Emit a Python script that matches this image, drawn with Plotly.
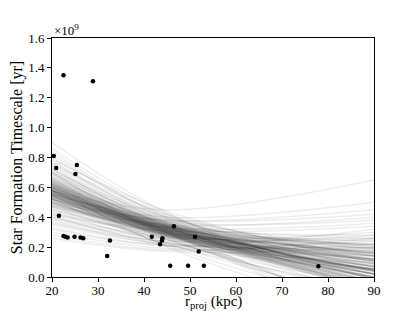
import plotly.graph_objects as go

# Observed points: projected radius (kpc) and star formation timescale (units of 1e9 yr)
r_proj_kpc = [20.4, 20.9, 21.5, 22.5, 22.9, 23.4, 24.9, 26.2, 26.8, 25.1, 25.4, 32.0, 32.6,
              22.5, 28.9,
              41.7, 43.5, 43.9, 44.0, 45.7, 46.5, 49.6, 51.1, 51.9, 53.0, 77.9]
tau_sf_1e9yr = [0.81, 0.73, 0.41, 0.275, 0.27, 0.265, 0.27, 0.265, 0.26, 0.69, 0.75, 0.14, 0.245,
                1.35, 1.31,
                0.27, 0.22, 0.245, 0.26, 0.076, 0.34, 0.076, 0.27, 0.17, 0.076, 0.072]

# Model draws: values (1e9 yr) at the nodes below
draw_nodes_kpc = [20, 45, 90]
draw_values = [
    # core
    (0.57, 0.31, 0.05), (0.55, 0.30, 0.02), (0.60, 0.32, -0.01), (0.52, 0.29, 0.07),
    (0.62, 0.33, 0.02), (0.58, 0.32, 0.11), (0.50, 0.28, 0.04), (0.64, 0.34, 0.00),
    (0.56, 0.31, 0.12), (0.59, 0.30, -0.06), (0.54, 0.32, 0.09), (0.61, 0.33, 0.05),
    (0.53, 0.27, -0.05), (0.66, 0.35, 0.04), (0.48, 0.28, 0.07), (0.57, 0.33, 0.17),
    (0.63, 0.31, -0.25), (0.51, 0.30, 0.12), (0.60, 0.35, 0.19), (0.55, 0.28, -0.08),
    (0.58, 0.31, 0.02), (0.49, 0.30, 0.16), (0.65, 0.32, -0.06), (0.56, 0.30, -0.01),
    (0.62, 0.36, 0.14), (0.53, 0.32, 0.16), (0.59, 0.31, -0.03), (0.47, 0.27, 0.02),
    (0.67, 0.34, -0.10), (0.54, 0.29, 0.00), (0.60, 0.32, 0.05), (0.52, 0.31, 0.17),
    (0.57, 0.29, -0.12), (0.63, 0.35, 0.11), (0.50, 0.27, -0.03), (0.58, 0.33, 0.09),
    (0.55, 0.33, 0.21), (0.61, 0.30, -0.22), (0.56, 0.31, 0.04), (0.64, 0.37, 0.19),
    (0.58, 0.34, 0.14), (0.54, 0.30, 0.05), (0.60, 0.31, -0.05), (0.52, 0.28, -0.01),
    (0.66, 0.36, 0.07), (0.57, 0.32, 0.07), (0.49, 0.29, 0.11), (0.62, 0.34, 0.04),
    (0.55, 0.31, 0.09), (0.59, 0.33, 0.12), (0.53, 0.30, 0.02), (0.65, 0.35, -0.01),
    (0.51, 0.28, 0.00), (0.58, 0.30, -0.08), (0.61, 0.34, 0.16), (0.56, 0.29, -0.05),
    (0.63, 0.33, -0.03), (0.50, 0.30, 0.19), (0.57, 0.34, 0.22), (0.60, 0.29, -0.32),
    (0.54, 0.33, 0.24), (0.62, 0.32, -0.08), (0.48, 0.29, 0.14), (0.59, 0.32, 0.02),
    (0.55, 0.29, -0.03), (0.64, 0.33, -0.05), (0.52, 0.32, 0.22), (0.58, 0.35, 0.26),
    (0.56, 0.32, 0.11), (0.61, 0.31, -0.10), (0.53, 0.29, 0.05), (0.67, 0.36, 0.02),
    (0.57, 0.30, 0.00), (0.50, 0.29, 0.09), (0.63, 0.34, 0.05), (0.55, 0.34, 0.28),
    (0.60, 0.33, 0.07), (0.58, 0.29, -0.24), (0.54, 0.31, 0.14), (0.65, 0.34, -0.03),
    (0.52, 0.30, 0.11), (0.59, 0.34, 0.17), (0.57, 0.31, -0.01), (0.61, 0.36, 0.21),
    (0.49, 0.28, 0.05), (0.56, 0.33, 0.16), (0.62, 0.30, -0.29), (0.54, 0.28, -0.06),
    (0.60, 0.34, 0.12), (0.58, 0.32, 0.04),
    # high start
    (0.72, 0.36, 0.05), (0.78, 0.38, 0.02), (0.70, 0.37, 0.10), (0.75, 0.40, 0.12),
    (0.82, 0.39, -0.05), (0.68, 0.35, 0.08), (0.86, 0.42, -0.02), (0.73, 0.34, -0.04),
    (0.69, 0.38, 0.15), (0.80, 0.41, 0.06), (0.71, 0.39, 0.18), (0.77, 0.36, -0.08),
    (0.74, 0.37, 0.03), (0.90, 0.43, -0.10), (0.69, 0.33, 0.00), (0.76, 0.42, 0.14),
    (0.84, 0.40, 0.00), (0.70, 0.35, 0.04), (0.79, 0.44, 0.10), (0.72, 0.40, 0.20),
    # low start
    (0.42, 0.25, 0.15), (0.38, 0.23, 0.18), (0.45, 0.26, 0.12), (0.35, 0.22, 0.20),
    (0.40, 0.27, 0.25), (0.30, 0.19, 0.22), (0.44, 0.23, 0.06), (0.36, 0.24, 0.28),
    (0.46, 0.27, 0.16), (0.33, 0.21, 0.24), (0.41, 0.21, 0.05), (0.28, 0.18, 0.26),
    (0.47, 0.25, 0.08), (0.39, 0.26, 0.30), (0.43, 0.28, 0.22), (0.37, 0.21, 0.10),
    (0.45, 0.29, 0.26), (0.32, 0.21, 0.32), (0.40, 0.23, 0.14), (0.26, 0.17, 0.20),
    # flattening / rising at large radius
    (0.50, 0.38, 0.45), (0.55, 0.40, 0.50), (0.48, 0.35, 0.40), (0.58, 0.45, 0.65),
    (0.52, 0.38, 0.42), (0.47, 0.33, 0.36), (0.56, 0.37, 0.38), (0.42, 0.31, 0.34),
    # falling below zero
    (0.58, 0.23, -0.15), (0.62, 0.25, -0.10), (0.55, 0.21, -0.20), (0.66, 0.26, -0.12),
    (0.52, 0.22, -0.08), (0.70, 0.27, -0.18), (0.60, 0.20, -0.25), (0.64, 0.25, -0.05),
]

x_ticks = [20, 30, 40, 50, 60, 70, 80, 90]
y_ticks = [0.0, 0.2, 0.4, 0.6, 0.8, 1.0, 1.2, 1.4, 1.6]
y_tick_labels = ["0.0", "0.2", "0.4", "0.6", "0.8", "1.0", "1.2", "1.4", "1.6"]

fig = go.Figure()
for vals in draw_values:
    fig.add_trace(go.Scatter(
        x=draw_nodes_kpc, y=list(vals), mode="lines",
        line=dict(color="rgba(0,0,0,0.07)", width=1.5, shape="spline", smoothing=1.0),
        hoverinfo="skip", showlegend=False))

fig.add_trace(go.Scatter(
    x=r_proj_kpc, y=tau_sf_1e9yr, mode="markers",
    marker=dict(color="black", size=4.5), showlegend=False))

font_family = "Liberation Serif"
fig.update_layout(
    width=415, height=311,
    margin=dict(l=52, r=41, t=38, b=34),
    plot_bgcolor="white", paper_bgcolor="white",
    font=dict(family=font_family, size=13, color="black"),
    xaxis=dict(range=[20, 90], tickvals=x_ticks, showgrid=False, zeroline=False,
               showline=True, linecolor="black", linewidth=1, mirror=True,
               ticks="outside", ticklen=4, tickcolor="black", automargin=False,
               tickfont=dict(size=13), ticklabelstandoff=-3),
    yaxis=dict(range=[0, 1.6], tickvals=y_ticks, ticktext=y_tick_labels, showgrid=False,
               zeroline=False, showline=True, linecolor="black", linewidth=1, mirror=True,
               ticks="outside", ticklen=4, tickcolor="black", automargin=False,
               tickfont=dict(size=13),
               title=dict(text="Star Formation Timescale [yr]", standoff=1, font=dict(size=16))),
    annotations=[
        dict(text="×10<sup>9</sup>", xref="paper", yref="paper", x=0, y=1,
             xanchor="left", yanchor="bottom", showarrow=False, yshift=-2,
             font=dict(size=13, family=font_family)),
        dict(text="r<sub>proj</sub> (kpc)", xref="paper", yref="paper", x=0.5, y=0,
             xanchor="center", yanchor="middle", showarrow=False, yshift=-25,
             font=dict(size=15, family=font_family)),
    ],
)

fig.write_html("out.html", config={"displayModeBar": False},
               post_script="document.body.style.margin='0';document.body.style.padding='0';")
